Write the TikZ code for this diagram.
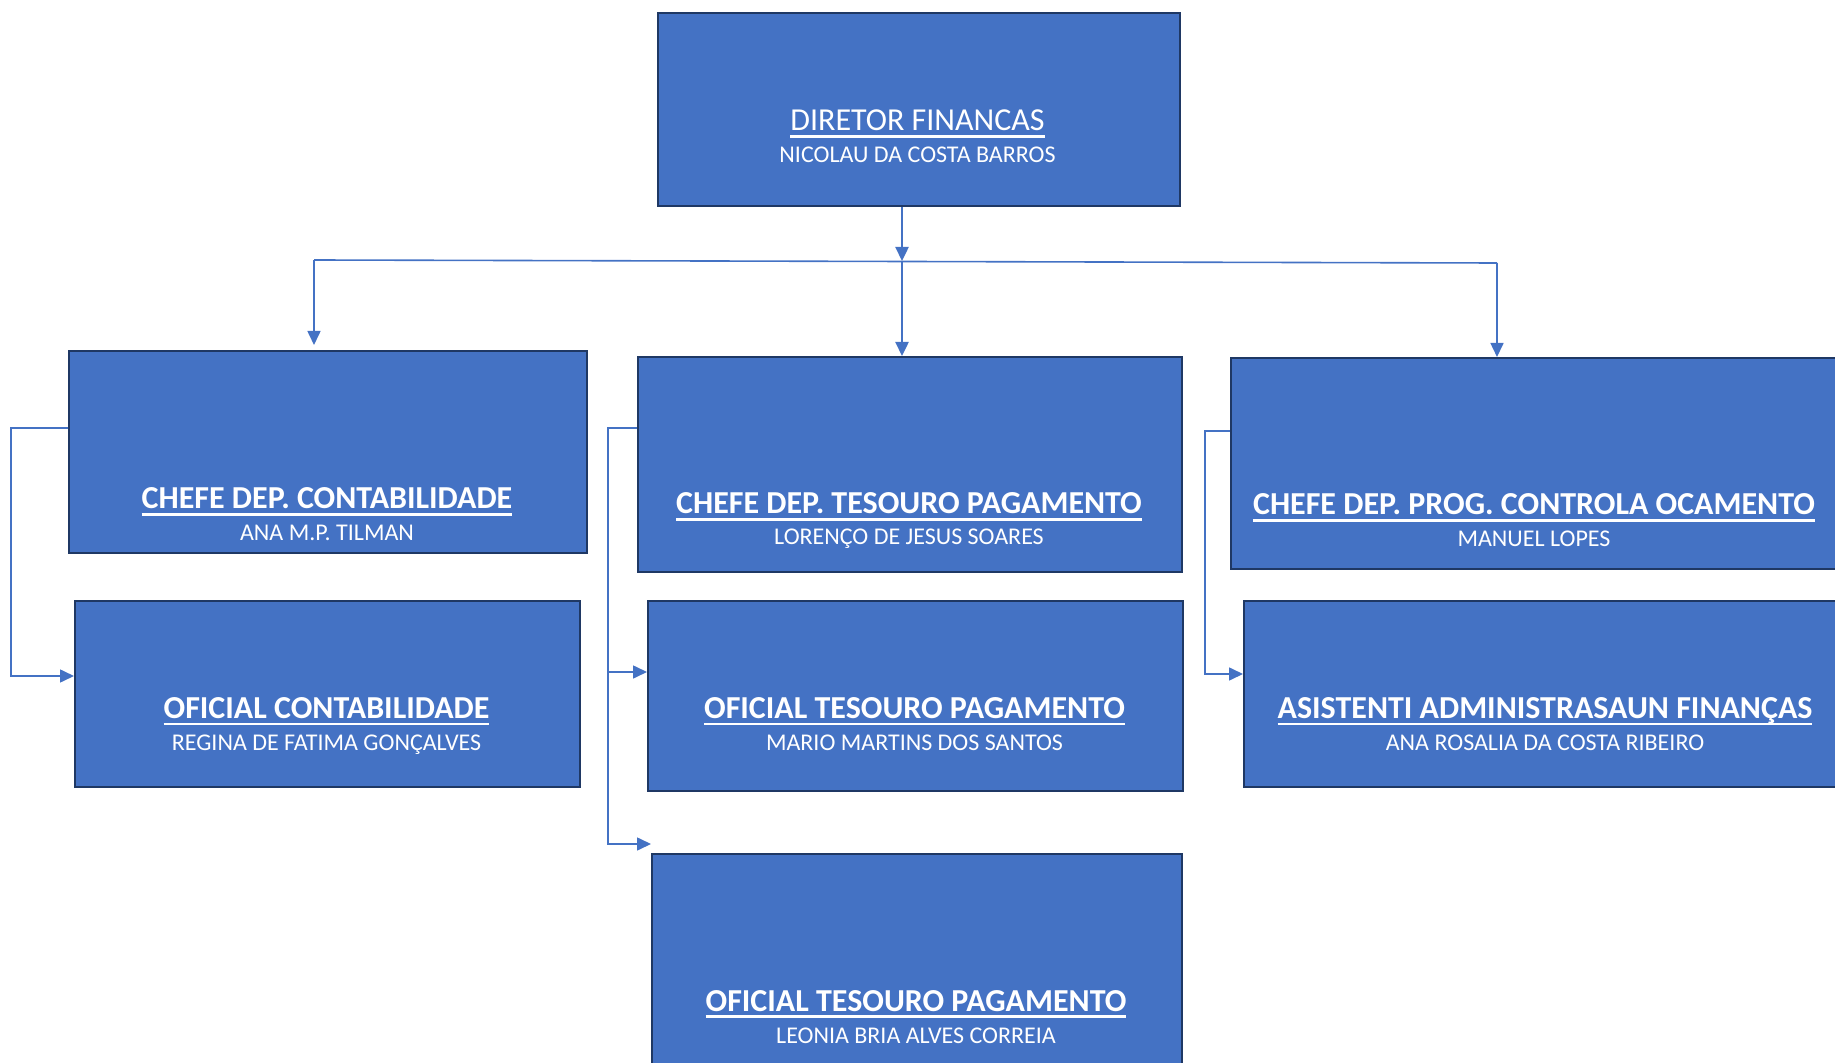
\documentclass[tikz,border=0pt]{standalone}
\usepackage{fontspec}
\setmainfont{Carlito}
\usetikzlibrary{arrows.meta}
\definecolor{boxblue}{HTML}{4472C4}
\definecolor{boxedge}{HTML}{1F3864}
\newcommand{\lineunder}[1]{\setbox0\hbox{#1}\rlap{\rule[-3.4pt]{\wd0}{1.2pt}}\box0}

\begin{document}
\begin{tikzpicture}[x=0.5pt,y=-0.5pt,
    unit/.style={rectangle,draw=boxedge,fill=boxblue,line width=1.2pt,inner sep=0pt,anchor=north west},
    title/.style={text=white,font=\fontsize{16}{18}\selectfont\bfseries,anchor=base,inner sep=0pt},
    who/.style={text=white,font=\fontsize{12}{14}\selectfont,anchor=base,inner sep=0pt},
    link/.style={draw=boxblue,line width=0.8pt},
    arr/.style={link,-{Triangle[length=7pt,width=6.5pt]}}]
  \useasboundingbox (0,0) rectangle (1835,1063);
  \clip (0,0) rectangle (1835,1063);

  % boxes
  \node[unit,minimum width=261pt,minimum height=96.5pt] (dir) at (656.5,12) {};
  \node[unit,minimum width=259pt,minimum height=101pt] (cdc) at (68,350) {};
  \node[unit,minimum width=252.5pt,minimum height=93pt] (oc) at (74,600) {};
  \node[unit,minimum width=272pt,minimum height=107.5pt] (cdtp) at (637,356) {};
  \node[unit,minimum width=267.5pt,minimum height=95pt] (otp) at (647,600) {};
  \node[unit,minimum width=265pt,minimum height=116pt] (otpb) at (651,853) {};
  \node[unit,minimum width=315pt,minimum height=105.5pt] (cdpco) at (1230,357) {};
  \node[unit,minimum width=308.5pt,minimum height=93pt] (aaf) at (1243,600) {};

  % texts
  \node[title,font=\fontsize{16}{18}\selectfont] (dir-t) at (917.5,131) {\lineunder{DIRETOR FINANCAS}};
  \node[who] (dir-n) at (917.5,163) {NICOLAU DA COSTA BARROS};
  \node[title] (cdc-t) at (327,509) {\lineunder{CHEFE DEP. CONTABILIDADE}};
  \node[who] (cdc-n) at (327,540) {ANA M.P. TILMAN};
  \node[title] (oc-t) at (326.5,718.5) {\lineunder{OFICIAL CONTABILIDADE}};
  \node[who] (oc-n) at (326.5,750) {REGINA DE FATIMA GONÇALVES};
  \node[title] (cdtp-t) at (909,514) {\lineunder{CHEFE DEP. TESOURO PAGAMENTO}};
  \node[who] (cdtp-n) at (909,545) {LORENÇO DE JESUS SOARES};
  \node[title] (otp-t) at (914.5,718.5) {\lineunder{OFICIAL TESOURO PAGAMENTO}};
  \node[who] (otp-n) at (914.5,750) {MARIO MARTINS DOS SANTOS};
  \node[title] (otpb-t) at (916,1011) {\lineunder{OFICIAL TESOURO PAGAMENTO}};
  \node[who] (otpb-n) at (916,1043) {LEONIA BRIA ALVES CORREIA};
  \node[title] (cdpco-t) at (1534,515) {\lineunder{CHEFE DEP. PROG. CONTROLA OCAMENTO}};
  \node[who] (cdpco-n) at (1534,546) {MANUEL LOPES};
  \node[title] (aaf-t) at (1545,718.5) {\lineunder{ASISTENTI ADMINISTRASAUN FINANÇAS}};
  \node[who] (aaf-n) at (1545,750) {ANA ROSALIA DA COSTA RIBEIRO};

  % top level links
  \coordinate (bus-l) at (314,260);
  \coordinate (bus-c) at (902,261);
  \coordinate (bus-r) at (1497,263);
  \draw[arr,line width=1.2pt] (dir.south -| bus-c) -- (bus-c);
  \draw[link] (bus-l) -- (bus-r);
  \draw[arr] (bus-l) -- ([yshift=2.5pt]bus-l |- cdc.north);
  \draw[arr,line width=1.2pt] (bus-c) -- (bus-c |- cdtp.north);
  \draw[arr] (bus-r) -- (bus-r |- cdpco.north);

  % side links
  \coordinate (cdc-k) at (11,428);
  \coordinate (oc-k) at (11,676);
  \draw[arr] (cdc-k -| cdc.west) -- (cdc-k) -- (oc-k) -- (oc-k -| oc.west);
  \coordinate (cdtp-k) at (608,428);
  \coordinate (otp-k) at (608,672);
  \coordinate (otpb-k) at (608,844);
  \draw[arr] (cdtp-k -| cdtp.west) -- (cdtp-k) -- (otpb-k) -- (otpb-k -| otpb.west);
  \draw[arr] (otp-k) -- (otp-k -| otp.west);
  \coordinate (cdpco-k) at (1205,431);
  \coordinate (aaf-k) at (1205,674);
  \draw[arr] (cdpco-k -| cdpco.west) -- (cdpco-k) -- (aaf-k) -- (aaf-k -| aaf.west);
\end{tikzpicture}
\end{document}
